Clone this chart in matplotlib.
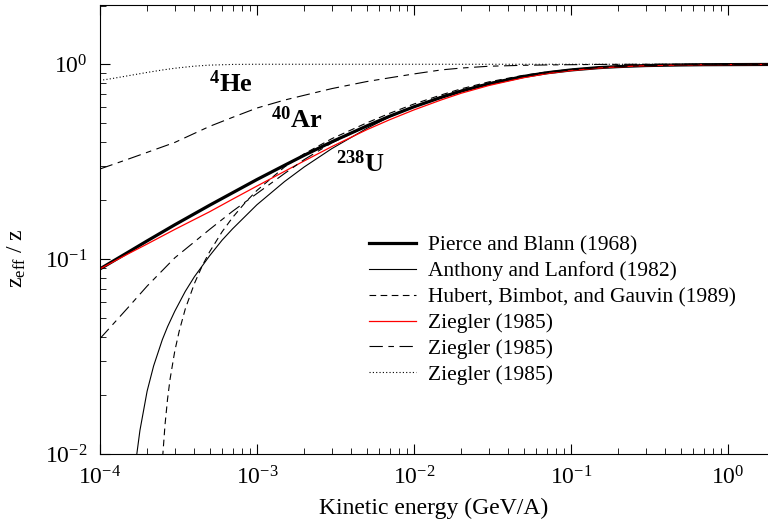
import numpy as np
import matplotlib.pyplot as plt

plt.rcParams['font.family'] = 'Liberation Serif'
plt.rcParams['mathtext.fontset'] = 'custom'
plt.rcParams['mathtext.rm'] = 'Liberation Serif'
plt.rcParams['mathtext.it'] = 'Liberation Serif:italic'
plt.rcParams['mathtext.bf'] = 'Liberation Serif:bold'

# kinetic energy grid (GeV/A)
energy = [1e-4, 1.5e-4, 2e-4, 3e-4, 5e-4, 7e-4, 1e-3, 1.5e-3, 2e-3, 3e-3,
          5e-3, 7e-3, 1e-2, 1.5e-2, 2e-2, 3e-2, 5e-2, 7e-2, 0.1, 0.15,
          0.2, 0.3, 0.5, 0.7, 1.0, 2.0]

# 238U
pierce_blann = [0.089, 0.108, 0.124, 0.150, 0.189, 0.219, 0.256, 0.303, 0.341, 0.400,
                0.482, 0.541, 0.605, 0.677, 0.728, 0.794, 0.866, 0.904, 0.935, 0.961,
                0.973, 0.985, 0.992, 0.995, 0.996, 0.998]
ziegler_u = [0.089, 0.106, 0.1195, 0.142, 0.175, 0.203, 0.237, 0.282, 0.319, 0.378,
             0.461, 0.519, 0.583, 0.657, 0.710, 0.778, 0.853, 0.895, 0.928, 0.956,
             0.970, 0.983, 0.991, 0.994, 0.996, 0.998]
ziegler_u2 = [0.039, 0.056, 0.0727, 0.1015, 0.142, 0.176, 0.217, 0.275, 0.324, 0.395,
              0.480, 0.540, 0.604, 0.677, 0.728, 0.794, 0.866, 0.904, 0.935, 0.961,
              0.973, 0.985, 0.992, 0.995, 0.996, 0.998]

anthony_e = [1.65e-4, 1.72e-4, 1.8e-4, 2e-4, 2.2e-4, 2.5e-4, 2.7e-4, 3e-4, 3.5e-4, 4e-4,
             5e-4, 6e-4, 7e-4, 1e-3, 1.5e-3, 2e-3, 3e-3, 5e-3, 7e-3, 1e-2,
             1.5e-2, 2e-2, 3e-2, 5e-2, 7e-2, 0.1, 0.15, 0.2, 0.3, 0.5,
             0.7, 1.0, 2.0]
anthony_lanford = [0.0072, 0.010, 0.0132, 0.021, 0.0283, 0.0386, 0.045, 0.054, 0.0683, 0.0812,
                   0.104, 0.125, 0.143, 0.190, 0.250, 0.297, 0.369, 0.468, 0.537, 0.606,
                   0.685, 0.735, 0.800, 0.870, 0.907, 0.937, 0.962, 0.974, 0.985, 0.992,
                   0.995, 0.996, 0.998]

hubert_e = [2.4e-4, 2.52e-4, 2.6e-4, 2.7e-4, 2.8e-4, 3e-4, 3.2e-4, 3.5e-4, 4e-4, 4.5e-4,
            5e-4, 6e-4, 7e-4, 8.5e-4, 1e-3, 1.5e-3, 2e-3, 3e-3, 5e-3, 7e-3,
            1e-2, 1.5e-2, 2e-2, 3e-2, 5e-2, 7e-2, 0.1, 0.15, 0.2, 0.3,
            0.5, 0.7, 1.0, 2.0]
hubert = [0.0035, 0.010, 0.0141, 0.0192, 0.0242, 0.0337, 0.0426, 0.0555, 0.0749, 0.0928,
          0.109, 0.138, 0.1635, 0.1966, 0.225, 0.297, 0.347, 0.415, 0.500, 0.560,
          0.625, 0.697, 0.748, 0.812, 0.878, 0.912, 0.942, 0.965, 0.977, 0.987,
          0.993, 0.996, 0.997, 0.998]

# 40Ar
ziegler_ar = [0.290, 0.325, 0.353, 0.397, 0.480, 0.534, 0.596, 0.655, 0.693, 0.750,
              0.815, 0.852, 0.892, 0.936, 0.956, 0.977, 0.988, 0.992, 0.995, 0.998,
              0.999, 1.0, 1.0, 1.0, 1.0, 1.0]

# 4He
he_e = [1e-4, 1.2e-4, 1.5e-4, 2e-4, 2.5e-4, 3e-4, 4e-4, 5e-4, 7e-4, 1e-3,
        1e-2, 0.1, 1.0, 2.0]
ziegler_he = [0.826, 0.845, 0.872, 0.908, 0.9345, 0.954, 0.978, 0.990, 0.998, 1.0,
              1.0, 1.0, 1.0, 1.0]

dashdot = (0, (12, 5, 5, 5))

fig = plt.figure(figsize=(7.68, 5.23), dpi=100)
ax = fig.add_axes([0.130, 0.132, 0.870, 0.858])

ax.plot(energy, pierce_blann, color='k', lw=2.3, label='Pierce and Blann (1968)')
ax.plot(anthony_e, anthony_lanford, color='k', lw=0.8, label='Anthony and Lanford (1982)')
ax.plot(hubert_e, hubert, color='k', lw=0.8, linestyle=(0, (6, 4)),
        label='Hubert, Bimbot, and Gauvin (1989)')
ax.plot(energy, ziegler_u, color='red', lw=0.9, label='Ziegler (1985)')
ax.plot(energy, ziegler_u2, color='k', lw=0.8, linestyle=dashdot)
ax.plot(energy, ziegler_ar, color='k', lw=0.8, linestyle=dashdot, label='Ziegler (1985)')
ax.plot(he_e, ziegler_he, color='k', lw=0.8, linestyle=(0, (1, 2)), label='Ziegler (1985)')

ax.set_xscale('log')
ax.set_yscale('log')
ax.set_xlim(1e-4, 10**0.255)
ax.set_ylim(1e-2, 10**0.303)
ax.spines['right'].set_visible(False)

ax.tick_params(which='both', direction='in', top=True, right=False, labelsize=17)
ax.tick_params(which='major', length=7, pad=9)
ax.tick_params(which='minor', length=4)

ax.set_xlabel('Kinetic energy (GeV/A)', fontsize=17, labelpad=6)
ax.set_ylabel(r'$\mathrm{z_{eff}\ /\ z}$', fontsize=17)
ax.yaxis.set_label_coords(-0.108, 0.437)

kw = dict(transform=ax.transAxes, fontsize=19, ha='left', va='baseline')
ax.text(0.163, 0.806, r'$^{\mathbf{4}}\mathbf{He}$', **kw)
ax.text(0.256, 0.726, r'$^{\mathbf{40}}\mathbf{Ar}$', **kw)
ax.text(0.354, 0.628, r'$^{\mathbf{238}}\mathbf{U}$', **kw)

ax.legend(loc='upper left', bbox_to_anchor=(0.403, 0.487), frameon=False, fontsize=15.5,
          handlelength=2.2, handletextpad=0.55, labelspacing=0.27, borderpad=0,
          borderaxespad=0)

fig.savefig('out.png', dpi=100)
